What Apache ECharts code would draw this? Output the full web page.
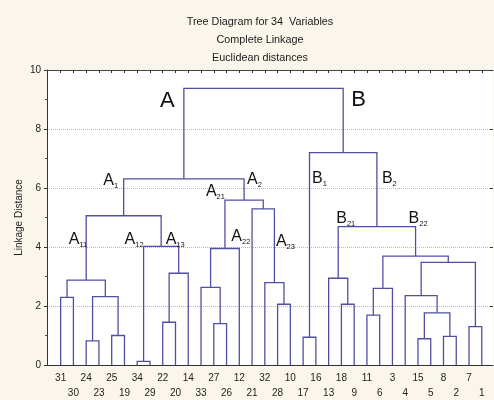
<!DOCTYPE html>
<html><head><meta charset="utf-8">
<script src="https://cdn.jsdelivr.net/npm/echarts@6/dist/echarts.min.js"></script>
<style>html,body{margin:0;padding:0;background:#fbf6ec}#c{width:494px;height:400px}</style>
</head><body><div id="c"></div>
<script>
// ---- data ----
const leafLabels = ['31','30','24','23','25','19','34','29','22','20','14','33','27','26','12','21','32','28','10','17','16','13','18','9','11','6','3','4','15','5','8','2','7','1'];
const mergeNames  = ['c1','c2','c3','c4','A11','c6','c7','c8','A12','A1','c11','c12','A22','c14','c15','A23','A2','A','B1','c20','B21','c22','c23','c24','c25','c26','c27','c28','c29','B22','B2','B','root'];
const mergeLeft   = ['31','24','25','c2','c1','34','22','c7','c6','A11','27','33','c12','28','32','21','A22','A1','17','18','13','11','c22','15','8','c24','4','7','c27','c23','B21','B1','A'];
const mergeRight  = ['30','23','19','c3','c4','29','20','14','c8','A12','26','c11','12','10','c14','c15','A23','A2','16','9','c20','6','3','5','2','c25','c26','1','c28','c29','B22','B2','B'];
const mergeHeights= [2.29,0.82,1.00,2.32,2.88,0.12,1.45,3.11,4.02,5.06,1.40,2.63,3.95,2.06,2.79,5.29,5.59,6.31,0.94,2.06,2.94,1.69,2.60,0.89,0.97,1.77,2.35,1.30,3.48,3.69,4.69,7.20,9.38];
const yTickValues = [0,2,4,6,8,10];
const titleLines = ['Tree Diagram for 34  Variables','Complete Linkage','Euclidean distances'];
const yAxisTitle = 'Linkage Distance';

// ---- build tree geometry (in data units) ----
const pos = {};
leafLabels.forEach((l,i)=>{ pos[l] = {x:i, h:0}; });
const segs = [];
mergeNames.forEach((n,k)=>{
  const L = pos[mergeLeft[k]], R = pos[mergeRight[k]], h = mergeHeights[k];
  pos[n] = {x:(L.x+R.x)/2, h:h, lx:L.x, rx:R.x};
  segs.push({coords:[[L.x,L.h],[L.x,h],[R.x,h],[R.x,R.h]]});
});
const leafIdx = leafLabels.map((_,i)=>i);

const xMin = -1.07, xMax = 33.88;
const chart = echarts.init(document.getElementById('c'));
const FONT = '"Liberation Sans", Arial, sans-serif';
chart.setOption({
  backgroundColor:'#fbf6ec',
  animation:false,
  title:{text:titleLines.join('\n'), left:255, top:8.5, textAlign:'center',
    textStyle:{fontSize:10.8, fontWeight:'normal', color:'#1a1a1a', lineHeight:17.7, fontFamily:FONT}},
  grid:{left:47, top:70, right:1, bottom:35, show:true, backgroundColor:'#ffffff', borderWidth:0,
        containLabel:false, outerBoundsMode:'none'},
  xAxis:[
    {type:'value', min:xMin, max:xMax, position:'bottom',
     axisLine:{show:true, onZero:false, lineStyle:{color:'#333', width:1}}, axisTick:{show:false},
     splitLine:{show:false},
     axisLabel:{customValues:leafIdx, margin:6, fontSize:10, lineHeight:15, color:'#222', fontFamily:FONT,
       hideOverlap:false,
       formatter:v=>{const i=Math.round(v); return (i%2?'\n':'')+leafLabels[i];}}},
    {type:'value', min:xMin, max:xMax, position:'top',
     axisLine:{show:true, onZero:false, lineStyle:{color:'#444', width:1}},
     axisTick:{show:true, inside:true, length:3, customValues:leafIdx, lineStyle:{color:'#333'}},
     axisLabel:{show:false}, splitLine:{show:false}}
  ],
  yAxis:[
    {type:'value', min:0, max:10, interval:2, position:'left',
     name:yAxisTitle, nameLocation:'middle', nameGap:23, nameMoveOverlap:false,
     nameTextStyle:{fontSize:10, color:'#222', fontFamily:FONT},
     axisLine:{show:true, onZero:false, lineStyle:{color:'#333', width:1}},
     axisTick:{show:true, inside:false, length:3, lineStyle:{color:'#333'}},
     minorTick:{show:true, splitNumber:2, length:2, lineStyle:{color:'#555'}},
     axisLabel:{margin:6, fontSize:10, color:'#222', fontFamily:FONT},
     splitLine:{show:true, lineStyle:{color:'#b8b8b8', type:'dotted', width:1}}},
    {type:'value', min:0, max:10, interval:2, position:'right',
     axisLine:{show:false, onZero:false}, axisTick:{show:true, inside:true, length:3, lineStyle:{color:'#333'}},
     axisLabel:{show:false}, splitLine:{show:false}}
  ],
  series:[
    {type:'lines', coordinateSystem:'cartesian2d', polyline:true, silent:true,
     lineStyle:{color:'#5050a2', width:1.3, opacity:1}, data:segs, z:5}
  ]
});

// ---- cluster annotations, anchored on bracket corners (pixel offsets) ----
const annos = [
  {t:'A', s:'',  node:'root', c:'l', dx:-16.5, dy:13,  al:'center'},
  {t:'B', s:'',  node:'root', c:'r', dx:15.5,  dy:12,  al:'center'},
  {t:'A', s:'1', node:'A',   c:'l', dx:-5.5, dy:2,   al:'right'},
  {t:'A', s:'2', node:'A',   c:'r', dx:3,    dy:1.5, al:'left'},
  {t:'A', s:'11',node:'A1',  c:'l', dx:1,    dy:24.5,al:'right'},
  {t:'A', s:'12',node:'A12', c:'l', dx:0,    dy:-6,  al:'right'},
  {t:'A', s:'13',node:'A12', c:'r', dx:-13,  dy:-6,  al:'left'},
  {t:'A', s:'21',node:'A2',  c:'l', dx:0,    dy:-8,  al:'right'},
  {t:'A', s:'22',node:'A22', c:'r', dx:-8,   dy:-11.5,al:'left'},
  {t:'A', s:'23',node:'A23', c:'r', dx:1.5,  dy:33.5,al:'left'},
  {t:'B', s:'1', node:'B',   c:'l', dx:2.5,  dy:27,  al:'left'},
  {t:'B', s:'2', node:'B',   c:'r', dx:5,    dy:27,  al:'left'},
  {t:'B', s:'21',node:'B2',  c:'l', dx:-2,   dy:-7.5,al:'left'},
  {t:'B', s:'22',node:'B2',  c:'r', dx:-7,   dy:-7.5,al:'left'}
];
const g = annos.map(a=>{
  const p = pos[a.node];
  const px = chart.convertToPixel({gridIndex:0}, [a.c==='l'?p.lx:p.rx, p.h]);
  return {type:'text', x:px[0]+a.dx, y:px[1]+a.dy, z:10,
    style:{text: a.s ? '{a|'+a.t+'}{s|'+a.s+'}' : '{b|'+a.t+'}',
      align:a.al, verticalAlign:'middle', fill:'#111',
      rich:{
        a:{fontSize:16, fontFamily:FONT, fill:'#111', verticalAlign:'top'},
        s:{fontSize:7.5, fontFamily:FONT, fill:'#111', verticalAlign:'top', padding:[9.5,0,0,0]},
        b:{fontSize:22, fontFamily:FONT, fill:'#111'}
      }}};
});
chart.setOption({graphic:g});
</script></body></html>
